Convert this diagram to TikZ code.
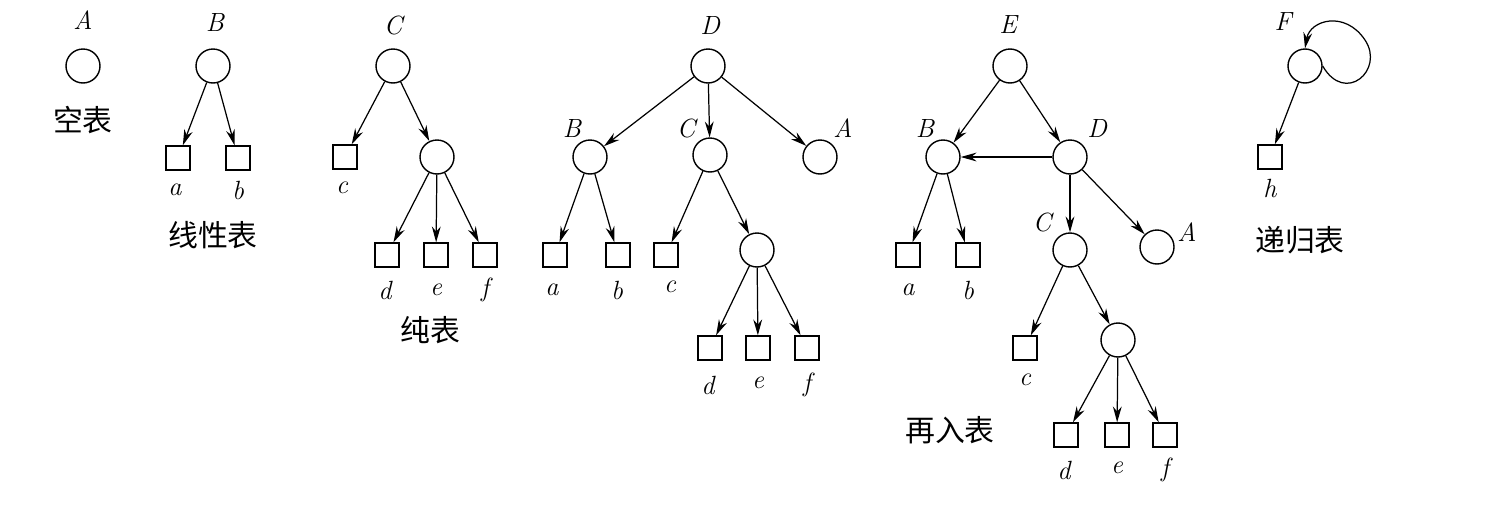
\documentclass[tikz,border=0pt]{standalone}
\usepackage{fontspec}
\newfontfamily\cjk{Noto Sans CJK SC}
\usetikzlibrary{arrows.meta}
\begin{document}
\begin{tikzpicture}[x=0.02cm,y=-0.02cm,
  cn/.style={circle,draw,minimum size=0.68cm,inner sep=0pt,line width=0.8pt},
  sq/.style={rectangle,draw,minimum size=0.48cm,inner sep=0pt,line width=0.8pt},
  lb/.style={font=\fontsize{15}{17}\selectfont\itshape},
  zh/.style={font=\cjk\fontsize{17}{20}\selectfont},
  ar/.style={-{Stealth[length=9pt,width=5pt]},line width=0.7pt}]
\useasboundingbox (0,0) rectangle (1498,504);
% A
\node[lb] (lA) at (83,20) {A};
\node[cn] (A) at (83,66) {};
\node[zh] (tA) at (83,120) {空表};
% B
\node[lb] (lB) at (215,22) {B};
\node[cn] (B) at (213,66) {};
\node[sq] (Ba) at (178,158) {};
\node[sq] (Bb) at (238,158) {};
\node[lb] (lBa) at (175,190) {a};
\node[lb] (lBb) at (238,190) {b};
\node[zh] (tB) at (213,235) {线性表};
\draw[ar] (B) -- (Ba); \draw[ar] (B) -- (Bb);
% C
\node[lb] (lC) at (393,25) {C};
\node[cn] (C) at (393,66) {};
\node[sq] (Cc) at (345,157) {};
\node[lb] (lCc) at (342,188) {c};
\node[cn] (Ci) at (437,157) {};
\node[sq] (Cd) at (387,255) {};
\node[sq] (Ce) at (436,255) {};
\node[sq] (Cf) at (485,255) {};
\node[lb] (lCd) at (385,290) {d};
\node[lb] (lCe) at (436,290) {e};
\node[lb] (lCf) at (485,290) {f};
\node[zh] (tC) at (430,330) {纯表};
\draw[ar] (C) -- (Cc); \draw[ar] (C) -- (Ci);
\draw[ar] (Ci) -- (Cd); \draw[ar] (Ci) -- (Ce); \draw[ar] (Ci) -- (Cf);
% D
\node[lb] (lD) at (710,25) {D};
\node[cn] (D) at (708,66) {};
\node[lb] (lDB) at (572,128) {B};
\node[cn] (DB) at (590,157) {};
\node[lb] (lDC) at (686,128) {C};
\node[cn] (DC) at (710,155) {};
\node[lb] (lDA) at (843,128) {A};
\node[cn] (DA) at (820,157) {};
\node[sq] (Da) at (555,255) {};
\node[sq] (Db) at (618,255) {};
\node[lb] (lDa) at (552,290) {a};
\node[lb] (lDb) at (617,290) {b};
\node[sq] (Dc) at (666,255) {};
\node[lb] (lDc) at (670,287) {c};
\node[cn] (Di) at (757,250) {};
\node[sq] (Dd) at (710,348) {};
\node[sq] (De) at (758,348) {};
\node[sq] (Df) at (807,348) {};
\node[lb] (lDd) at (708,385) {d};
\node[lb] (lDe) at (758,383) {e};
\node[lb] (lDf) at (807,385) {f};
\draw[ar] (D) -- (DB); \draw[ar] (D) -- (DC); \draw[ar] (D) -- (DA);
\draw[ar] (DB) -- (Da); \draw[ar] (DB) -- (Db);
\draw[ar] (DC) -- (Dc); \draw[ar] (DC) -- (Di);
\draw[ar] (Di) -- (Dd); \draw[ar] (Di) -- (De); \draw[ar] (Di) -- (Df);
% E
\node[lb] (lE) at (1008,25) {E};
\node[cn] (E) at (1010,66) {};
\node[lb] (lEB) at (925,128) {B};
\node[cn] (EB) at (943,157) {};
\node[lb] (lED) at (1097,128) {D};
\node[cn] (ED) at (1070,157) {};
\node[lb] (lEA) at (1187,232) {A};
\node[cn] (EA) at (1157,247) {};
\node[lb] (lEC) at (1042,222) {C};
\node[cn] (EC) at (1070,250) {};
\node[sq] (Ea) at (908,255) {};
\node[sq] (Eb) at (968,255) {};
\node[lb] (lEa) at (908,290) {a};
\node[lb] (lEb) at (968,290) {b};
\node[sq] (Ec) at (1025,348) {};
\node[lb] (lEc) at (1025,380) {c};
\node[cn] (Ei) at (1118,340) {};
\node[sq] (Ed) at (1066,435) {};
\node[sq] (Ee) at (1117,435) {};
\node[sq] (Ef) at (1165,435) {};
\node[lb] (lEd) at (1064,470) {d};
\node[lb] (lEe) at (1117,468) {e};
\node[lb] (lEf) at (1165,470) {f};
\node[zh] (tE) at (950,430) {再入表};
\draw[ar] (E) -- (EB); \draw[ar] (E) -- (ED); \draw[ar] (ED) -- (EB);
\draw[ar] (ED) -- (EC); \draw[ar] (ED) -- (EA);
\draw[ar] (EB) -- (Ea); \draw[ar] (EB) -- (Eb);
\draw[ar] (EC) -- (Ec); \draw[ar] (EC) -- (Ei);
\draw[ar] (Ei) -- (Ed); \draw[ar] (Ei) -- (Ee); \draw[ar] (Ei) -- (Ef);
% F
\node[lb] (lF) at (1283,22) {F};
\node[cn] (F) at (1305,66) {};
\node[sq] (Fh) at (1270,157) {};
\node[lb] (lFh) at (1270,188) {h};
\node[zh] (tF) at (1300,240) {递归表};
\draw[ar] (F) -- (Fh);
\draw[ar] (F.east) .. controls (1345,105) and (1385,70) .. (1365,40)
  .. controls (1345,10) and (1310,20) .. (F.north);
\end{tikzpicture}
\end{document}
